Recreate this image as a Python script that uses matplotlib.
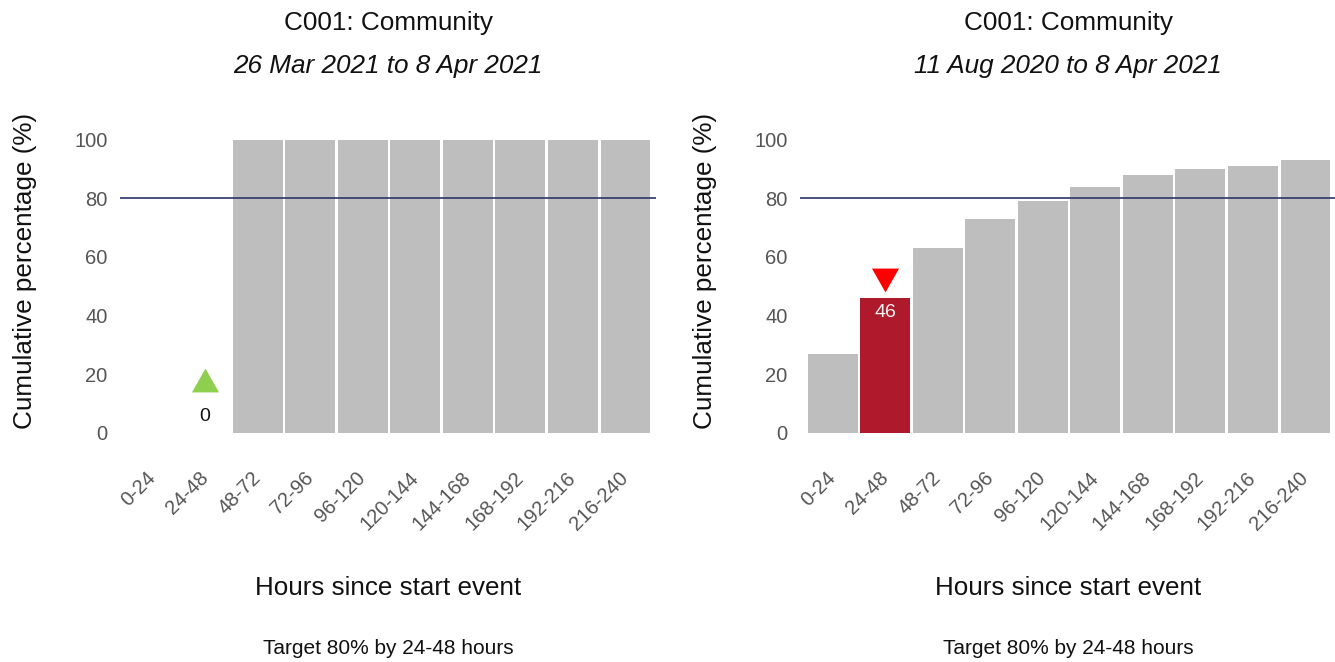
import matplotlib.pyplot as plt
import numpy as np

plt.rcParams["font.family"] = ["Liberation Sans", "DejaVu Sans"]

# data
categories = ["0-24", "24-48", "48-72", "72-96", "96-120",
              "120-144", "144-168", "168-192", "192-216", "216-240"]
left_values = [np.nan, 0, 100, 100, 100, 100, 100, 100, 100, 100]
right_values = [27, 46, 63, 73, 79, 84, 88, 90, 91, 93]
panel_title = "C001: Community"
left_period = "26 Mar 2021 to 8 Apr 2021"
right_period = "11 Aug 2020 to 8 Apr 2021"
target = 80
target_category = "24-48"
caption = "Target 80% by 24-48 hours"

GREY = "#bebebe"
RED_BAR = "#ae1a2c"
NAVY = "#2b3468"
TICK_GREY = "#555555"
TRI_UP = [(-1, -0.88), (1, -0.88), (0, 0.88)]
TRI_DOWN = [(-1, 0.88), (1, 0.88), (0, -0.88)]

W, H = 1335, 662
fig = plt.figure(figsize=(W / 100, H / 100), dpi=100)


def draw_panel(left_px, values, period, marker, bar_color, marker_color, label_color):
    ax = fig.add_axes([left_px / W, (H - 433) / H, 536 / W, 308 / H])
    x = np.arange(len(categories))
    vals = np.array(values, dtype=float)
    hi = categories.index(target_category)
    colors = [bar_color if i == hi else GREY for i in x]
    ax.bar(x, np.nan_to_num(vals), width=0.95, color=colors, zorder=2)
    ax.axhline(target, color=NAVY, lw=1.2, zorder=3)

    # label inside the bar when it is tall enough, above it otherwise
    v = vals[hi]
    if v > 15:
        label_y = v - 5
        marker_y = v + 6
    else:
        label_y = v + 5.5
        marker_y = v + 18
    ax.text(hi, label_y, f"{v:.0f}", ha="center", va="center",
            fontsize=14, color=label_color, zorder=4)
    ax.plot(hi, marker_y, marker=marker, ms=19.5, color=marker_color,
            mec="none", zorder=4, clip_on=False)

    ax.set_xlim(-0.62, 9.58)
    ax.set_ylim(0, 105)
    ax.set_yticks([0, 20, 40, 60, 80, 100])
    ax.set_xticks(x)
    ax.set_xticklabels(categories, rotation=45, ha="right", va="center",
                       rotation_mode="anchor")
    ax.tick_params(axis="both", length=0, colors=TICK_GREY, labelsize=14.5)
    ax.tick_params(axis="x", pad=30)
    ax.tick_params(axis="y", pad=9)
    for s in ax.spines.values():
        s.set_visible(False)
    ax.set_ylabel("Cumulative percentage (%)", fontsize=18.8, color="#111111")
    ax.yaxis.set_label_coords(-0.155, 0.526)

    cx = (left_px + 268) / W
    fig.text(cx, 1 - 23 / H, panel_title, ha="center", va="center",
             fontsize=18.8, color="#111111")
    fig.text(cx, 1 - 66 / H, period, ha="center", va="center",
             fontsize=18.8, style="italic", color="#111111")
    fig.text(cx, 1 - 588 / H, "Hours since start event", ha="center",
             va="center", fontsize=18.7, color="#111111")
    fig.text(cx, 1 - 648 / H, caption, ha="center", va="center",
             fontsize=15, color="#111111")
    return ax


draw_panel(120, left_values, left_period, TRI_UP, GREY, "#8fcf4f", "#111111")
draw_panel(800, right_values, right_period, TRI_DOWN, RED_BAR, "#ff0000", "#f2f2f2")

fig.savefig("out.png", dpi=100)
